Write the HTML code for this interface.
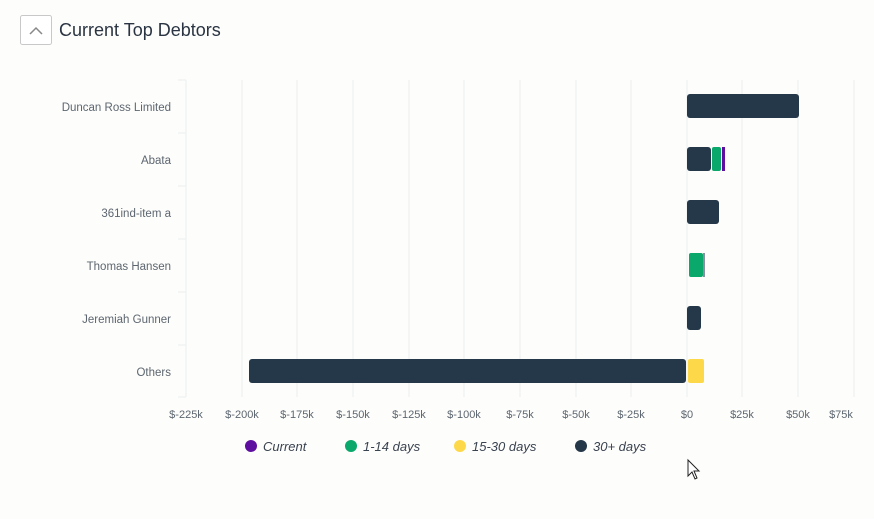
<!DOCTYPE html>
<html><head><style>
body{margin:0;background:#fdfdfb;width:874px;height:514px;overflow:hidden;font-family:"Liberation Sans",sans-serif}
</style></head><body>
<svg width="874" height="514" xmlns="http://www.w3.org/2000/svg" font-family="Liberation Sans, sans-serif">
<rect width="874" height="514" fill="#fdfdfb"/>
<rect x="20.5" y="15.5" width="31" height="29" rx="2" fill="#fff" stroke="#c8c8c8"/>
<polyline points="30,34 36,28 42,34" fill="none" stroke="#888" stroke-width="1.5"/>
<text x="59" y="36" font-size="18" fill="#2a3442">Current Top Debtors</text>
<g stroke="#eceef1" stroke-width="1">
<line x1="186" y1="80" x2="186" y2="397"/><line x1="242" y1="80" x2="242" y2="397"/><line x1="297" y1="80" x2="297" y2="397"/><line x1="353" y1="80" x2="353" y2="397"/><line x1="409" y1="80" x2="409" y2="397"/><line x1="464" y1="80" x2="464" y2="397"/><line x1="520" y1="80" x2="520" y2="397"/><line x1="576" y1="80" x2="576" y2="397"/><line x1="631" y1="80" x2="631" y2="397"/><line x1="687" y1="80" x2="687" y2="397"/><line x1="742" y1="80" x2="742" y2="397"/><line x1="798" y1="80" x2="798" y2="397"/><line x1="854" y1="80" x2="854" y2="397"/>
<line x1="178" y1="80" x2="186" y2="80"/><line x1="178" y1="133" x2="186" y2="133"/><line x1="178" y1="186" x2="186" y2="186"/><line x1="178" y1="239" x2="186" y2="239"/><line x1="178" y1="292" x2="186" y2="292"/><line x1="178" y1="345" x2="186" y2="345"/><line x1="178" y1="397" x2="186" y2="397"/>
</g>
<g font-size="11.5" fill="#5d6670" text-anchor="end">
<text x="171" y="111">Duncan Ross Limited</text><text x="171" y="164">Abata</text><text x="171" y="217">361ind-item a</text><text x="171" y="270">Thomas Hansen</text><text x="171" y="323">Jeremiah Gunner</text><text x="171" y="376">Others</text>
</g>
<g font-size="11" fill="#5d6670" text-anchor="middle">
<text x="186" y="418">$-225k</text><text x="242" y="418">$-200k</text><text x="297" y="418">$-175k</text><text x="353" y="418">$-150k</text><text x="409" y="418">$-125k</text><text x="464" y="418">$-100k</text><text x="520" y="418">$-75k</text><text x="576" y="418">$-50k</text><text x="631" y="418">$-25k</text><text x="687" y="418">$0</text><text x="742" y="418">$25k</text><text x="798" y="418">$50k</text><text x="841" y="418">$75k</text>
</g>
<g fill="#253849">
<rect x="687" y="94" width="112" height="24" rx="3"/>
<rect x="687" y="147" width="24" height="24" rx="3"/>
<rect x="687" y="200" width="32" height="24" rx="3"/>
<rect x="687" y="306" width="14" height="24" rx="3"/>
<rect x="249" y="359" width="437" height="24" rx="3"/>
</g>
<rect x="712" y="147" width="9" height="24" rx="2" fill="#0aa86b"/>
<rect x="722" y="147" width="3" height="24" fill="#5e0fa0"/>
<rect x="689" y="253" width="14" height="24" rx="2" fill="#0aa86b"/>
<rect x="703" y="253" width="2" height="24" fill="#8a8fa5"/>
<rect x="688" y="359" width="16" height="24" rx="2" fill="#fdd94a"/>
<g font-size="13" font-style="italic" fill="#3a4350">
<circle cx="251" cy="446" r="6" fill="#5e0fa0"/><text x="263" y="451">Current</text>
<circle cx="351" cy="446" r="6" fill="#0aa86b"/><text x="363" y="451">1-14 days</text>
<circle cx="460" cy="446" r="6" fill="#fdd94a"/><text x="472" y="451">15-30 days</text>
<circle cx="581" cy="446" r="6" fill="#253849"/><text x="593" y="451">30+ days</text>
</g>
<path d="M688 460 L688 476 L692 472 L695 479 L697 478 L694 471 L699 471 Z" fill="#fff" stroke="#222" stroke-width="1"/>
</svg>
</body></html>
